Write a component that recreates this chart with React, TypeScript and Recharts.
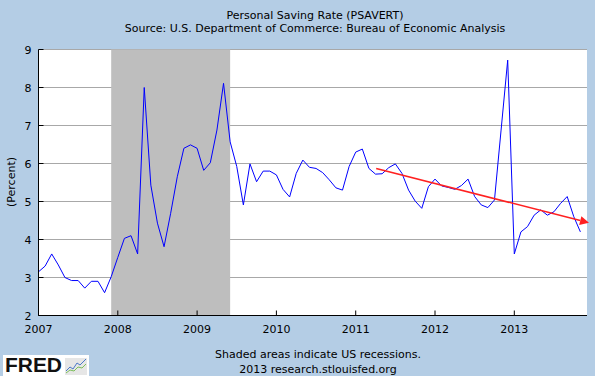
import React from "react";
import {
  LineChart,
  Line,
  XAxis,
  YAxis,
  CartesianGrid,
  ReferenceArea,
  ReferenceLine,
} from "recharts";

// Personal saving rate, monthly, Jan 2007 .. Nov 2013 (percent)
const rate2007 = [3.15, 3.3, 3.62, 3.33, 3.0, 2.92, 2.92, 2.72, 2.9, 2.9, 2.6, 3.02];
const rate2008 = [3.53, 4.03, 4.1, 3.62, 8.0, 5.43, 4.43, 3.81, 4.69, 5.65, 6.4, 6.49];
const rate2009 = [6.4, 5.82, 6.02, 6.88, 8.11, 6.57, 5.92, 4.91, 5.99, 5.52, 5.8, 5.8];
const rate2010 = [5.7, 5.32, 5.12, 5.74, 6.09, 5.9, 5.87, 5.76, 5.57, 5.36, 5.3, 5.92];
const rate2011 = [6.3, 6.38, 5.87, 5.72, 5.73, 5.89, 5.99, 5.74, 5.3, 5.01, 4.82, 5.39];
const rate2012 = [5.59, 5.41, 5.37, 5.32, 5.42, 5.59, 5.13, 4.91, 4.84, 5.04, 6.88, 8.72];
const rate2013 = [3.62, 4.2, 4.34, 4.64, 4.78, 4.64, 4.73, 4.95, 5.13, 4.6, 4.2];

const years = [2007, 2008, 2009, 2010, 2011, 2012, 2013];
const yTicks = [2, 3, 4, 5, 6, 7, 8, 9];

// recession: Dec 2007 .. Jun 2009 (month index from Jan 2007)
const recession = { from: 11, to: 29 };

// hand-drawn trend arrow (month index, percent)
const trendArrow = [
  { m: 51.1, v: 5.87 },
  { m: 83.3, v: 4.44 },
];

const series = [rate2007, rate2008, rate2009, rate2010, rate2011, rate2012, rate2013];
const data = series.flatMap((vals, yi) =>
  vals.map((v, mi) => ({ m: yi * 12 + mi, v }))
);
const xTicks = years.map((y, i) => i * 12);

const W = 595;
const H = 376;
const margin = { top: 49.5, right: 8, bottom: 40.5, left: 8.5 };
const Y_AXIS_W = 30;
const X_AXIS_H = 20;
const PLOT_LEFT = margin.left + Y_AXIS_W;
const PLOT_BOTTOM = H - margin.bottom - X_AXIS_H;

const BG = "#B4CDE5";
const FONT = "'DejaVu Sans', Verdana, sans-serif";

const XTick = (props: any) => {
  const { x, payload } = props;
  return (
    <g>
      <line x1={x} x2={x} y1={PLOT_BOTTOM} y2={PLOT_BOTTOM - 5} stroke="#000" />
      <text
        x={x}
        y={PLOT_BOTTOM + 17}
        textAnchor="middle"
        fontSize={11}
        fontFamily={FONT}
        fill="#000"
      >
        {2007 + payload.value / 12}
      </text>
    </g>
  );
};

const YTick = (props: any) => {
  const { y, payload } = props;
  return (
    <g>
      <line x1={PLOT_LEFT} x2={PLOT_LEFT + 5} y1={y} y2={y} stroke="#000" />
      <text
        x={PLOT_LEFT - 7}
        y={y + 4}
        textAnchor="end"
        fontSize={11}
        fontFamily={FONT}
        fill="#000"
      >
        {payload.value}
      </text>
    </g>
  );
};

const ArrowShape = (props: any) => {
  const { x1, y1, x2, y2 } = props;
  const a = Math.atan2(y2 - y1, x2 - x1);
  const len = 9;
  const half = 4.5;
  const bx = x2 - len * Math.cos(a);
  const by = y2 - len * Math.sin(a);
  const pts = [
    `${x2},${y2}`,
    `${bx + half * Math.sin(a)},${by - half * Math.cos(a)}`,
    `${bx - half * Math.sin(a)},${by + half * Math.cos(a)}`,
  ].join(" ");
  return (
    <g>
      <line x1={x1} y1={y1} x2={bx} y2={by} stroke="#ff2020" strokeWidth={1.5} />
      <polygon points={pts} fill="#ff2020" />
    </g>
  );
};

export default function App() {
  return (
    <div
      style={{
        position: "absolute",
        left: 0,
        top: 0,
        width: W,
        height: H,
        background: BG,
        overflow: "hidden",
      }}
    >
      <LineChart width={W} height={H} data={data} margin={margin}>
        <CartesianGrid
          horizontal
          vertical={false}
          stroke="#a8a8a8"
          fill="#ffffff"
          fillOpacity={1}
        />
        <XAxis
          dataKey="m"
          type="number"
          domain={[0, 83]}
          ticks={xTicks}
          height={X_AXIS_H}
          tickLine={false}
          tick={<XTick />}
          axisLine={{ stroke: "#000" }}
          interval={0}
        />
        <YAxis
          type="number"
          domain={[2, 9]}
          ticks={yTicks}
          width={Y_AXIS_W}
          tickLine={false}
          tick={<YTick />}
          axisLine={{ stroke: "#000" }}
          interval={0}
        />
        <ReferenceArea
          x1={recession.from}
          x2={recession.to}
          fill="#bebebe"
          fillOpacity={1}
          stroke="none"
        />
        <Line
          dataKey="v"
          stroke="#0000ff"
          strokeWidth={1}
          dot={false}
          isAnimationActive={false}
        />
        <ReferenceLine
          segment={trendArrow.map((p) => ({ x: p.m, y: p.v }))}
          ifOverflow="visible"
          shape={ArrowShape}
        />
      </LineChart>
      <svg
        width={W}
        height={H}
        style={{ position: "absolute", left: 0, top: 0, pointerEvents: "none" }}
      >
        <g fontFamily={FONT} fontSize={11} fill="#000">
          <text x={315} y={18.5} textAnchor="middle">
            Personal Saving Rate (PSAVERT)
          </text>
          <text x={315} y={32} textAnchor="middle">
            Source: U.S. Department of Commerce: Bureau of Economic Analysis
          </text>
          <text x={11} y={182} textAnchor="middle" dominantBaseline="central" transform="rotate(-90 11 182)">
            (Percent)
          </text>
          <text x={318} y={357.5} textAnchor="middle">
            Shaded areas indicate US recessions.
          </text>
          <text x={318} y={372.5} textAnchor="middle">
            2013 research.stlouisfed.org
          </text>
        </g>
        <rect x={3} y={355} width={86} height={21} fill="#ffffff" />
        <text
          x={5}
          y={371.5}
          fontFamily="'Liberation Sans', Arial, sans-serif"
          fontWeight={900}
          fontSize={20}
          textLength={57}
          lengthAdjust="spacingAndGlyphs"
          fill="#111"
        >
          FRED
        </text>
        <rect x={65} y={358} width={22} height={17} fill="#e6e6e6" />
        <polyline points="66,371 70,367 73,369 77,363 80,365 86,359" fill="none" stroke="#4a78c8" strokeWidth={1} />
        <polyline points="66,373 70,370 74,371 78,367 82,368 86,364" fill="none" stroke="#7cbf5a" strokeWidth={1} />
      </svg>
    </div>
  );
}
